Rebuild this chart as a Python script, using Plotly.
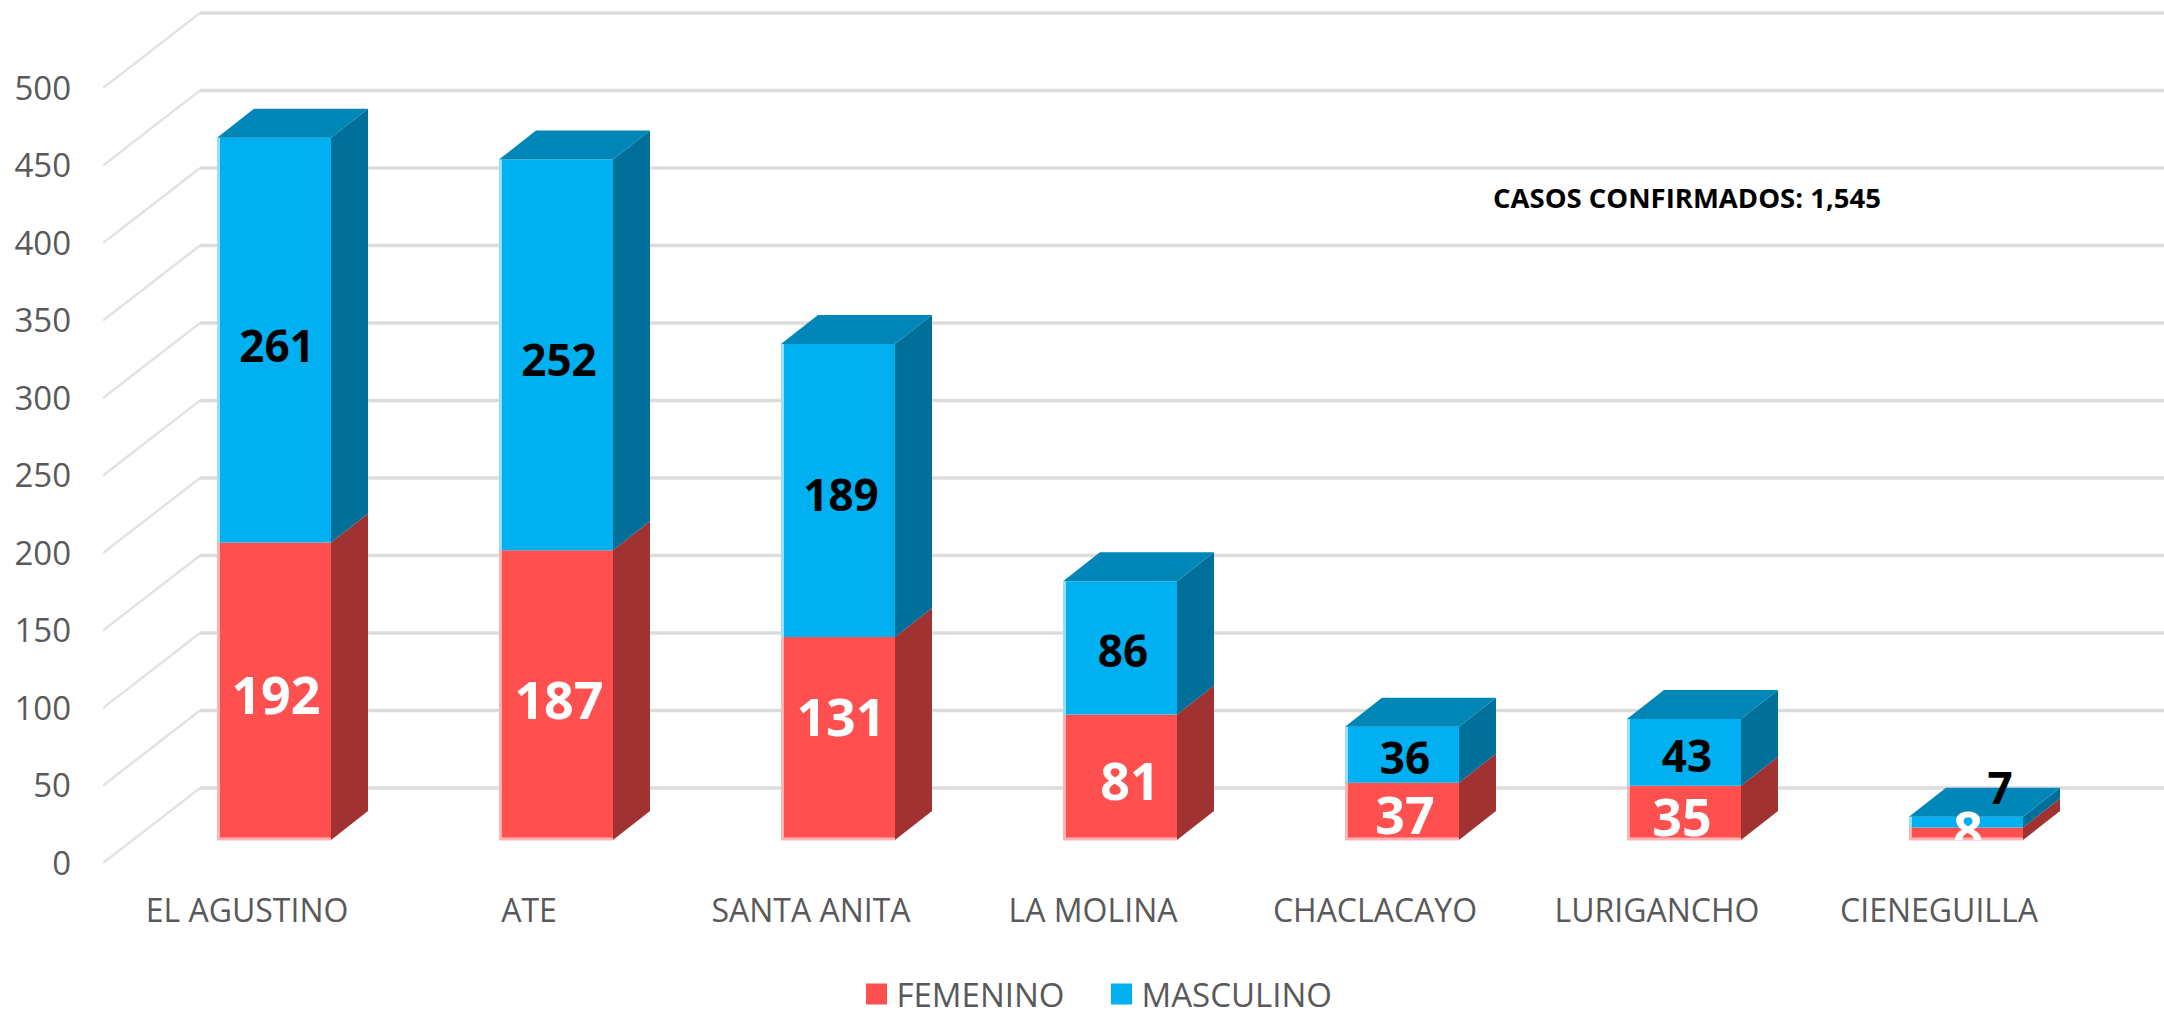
import plotly.graph_objects as go

categories = ["EL AGUSTINO", "ATE", "SANTA ANITA", "LA MOLINA", "CHACLACAYO", "LURIGANCHO", "CIENEGUILLA"]
femenino = [192, 187, 131, 81, 37, 35, 8]
masculino = [261, 252, 189, 86, 36, 43, 7]
y_ticks = [0, 50, 100, 150, 200, 250, 300, 350, 400, 450, 500]

W, H = 2164, 1010
PX_Y = 1.55              # pixels per value unit
ZERO_PX = 863            # pixel row of value 0
STEP = 282               # pixels per category
X0 = 274                 # pixel column of first bar centre
LEFT = 103               # left edge of plot
FONT = "Open Sans"
GREY = "#595959"

# label nudges from the middle of each segment, in pixels (right, down)
fem_nudge_x = [2, 3, 3, 10, 3, -2, 2]
fem_nudge_y = [10, 11, -15, 10, 10, 10, 2]
mas_nudge_x = [3, 3, 3, 3, 3, 3, 34]
mas_nudge_y = [11, 10, 9.5, 8, 8, 9, -29]

xu = lambda px: px / STEP
yu = lambda px: px / PX_Y
base = yu(23)
bar_w = xu(114)
dx, dy = xu(37), yu(29)
wall_dx, wall_dy = xu(97), yu(75)
x_left = (LEFT - X0) / STEP
x_right = (W - X0) / STEP
y_top = ZERO_PX / PX_Y
xs = list(range(len(categories)))

RED, RED_SIDE, RED_EDGE = "#FF5050", "#A03232", "#FFB4B4"
BLUE, BLUE_SIDE, BLUE_TOP, BLUE_EDGE = "#00B0F0", "#00709A", "#0086B7", "#9ADFF8"


def poly(px, py, color):
    return go.Scatter(x=px, y=py, mode="lines", fill="toself", fillcolor=color,
                      line=dict(width=0), hoverinfo="skip", showlegend=False)


fig = go.Figure()

# walls: drawn below the traces
shapes = []
for t in y_ticks:
    shapes.append(dict(type="line", layer="below", xref="x", yref="y",
                       x0=x_left, y0=t, x1=x_left + wall_dx, y1=t + wall_dy,
                       line=dict(color="#E2E2E2", width=2.5)))
    shapes.append(dict(type="line", layer="below", xref="x", yref="y",
                       x0=x_left + wall_dx, y0=t + wall_dy, x1=x_right, y1=t + wall_dy,
                       line=dict(color="#DCDCDC", width=3.5)))

# front faces
fig.add_trace(go.Bar(x=xs, y=femenino, base=[base] * len(xs), width=bar_w, name="FEMENINO",
                     marker=dict(color=RED, line=dict(width=0)), showlegend=False))
fig.add_trace(go.Bar(x=xs, y=masculino, base=[base + f for f in femenino], width=bar_w, name="MASCULINO",
                     marker=dict(color=BLUE, line=dict(width=0)), showlegend=False))

# side and top faces, bright edges
for i, (f, m) in enumerate(zip(femenino, masculino)):
    l, r = i - bar_w / 2, i + bar_w / 2
    y1, y2 = base + f, base + f + m
    fig.add_trace(poly([r, r + dx, r + dx, r, r], [base, base + dy, y1 + dy, y1, base], RED_SIDE))
    fig.add_trace(poly([r, r + dx, r + dx, r, r], [y1, y1 + dy, y2 + dy, y2, y1], BLUE_SIDE))
    fig.add_trace(poly([l, l + dx, r + dx, r, l], [y2, y2 + dy, y2 + dy, y2, y2], BLUE_TOP))
    fig.add_trace(go.Scatter(x=[l + xu(1.5), l + xu(1.5), r], y=[y1, base + yu(1), base + yu(1)], mode="lines",
                             line=dict(color=RED_EDGE, width=3), hoverinfo="skip", showlegend=False))
    fig.add_trace(go.Scatter(x=[l + xu(1.5), l + xu(1.5)], y=[y1, y2], mode="lines",
                             line=dict(color=BLUE_EDGE, width=3), hoverinfo="skip", showlegend=False))

# legend entries
for name, col in [("FEMENINO", RED), ("MASCULINO", BLUE)]:
    fig.add_trace(go.Scatter(x=[None], y=[None], mode="markers", name=name,
                             marker=dict(symbol="square", size=16, color=col, line=dict(color=col, width=5))))

# value labels: on a subplot that ends at the bars' floor, so low labels are cut there
fem_x = [i + xu(n) for i, n in zip(xs, fem_nudge_x)]
mas_x = [i + xu(n) for i, n in zip(xs, mas_nudge_x)]
fem_y = [base + f / 2 - yu(n) for f, n in zip(femenino, fem_nudge_y)]
mas_y = [base + f + m / 2 - yu(n) for f, m, n in zip(femenino, masculino, mas_nudge_y)]
fig.add_trace(go.Scatter(x=fem_x, y=fem_y, yaxis="y2", mode="text", text=[str(v) for v in femenino],
                         textposition="middle center", cliponaxis=True, showlegend=False, hoverinfo="skip",
                         textfont=dict(family=FONT, size=52, color="white", weight="bold")))
fig.add_trace(go.Scatter(x=mas_x, y=mas_y, yaxis="y2", mode="text", text=[str(v) for v in masculino],
                         textposition="middle center", cliponaxis=True, showlegend=False, hoverinfo="skip",
                         textfont=dict(family=FONT, size=44, color="black", weight="bold")))

fig.add_annotation(text="<b>CASOS CONFIRMADOS: 1,545</b>", xref="paper", yref="paper", showarrow=False,
                   x=(1687 - LEFT) / (W - LEFT), y=(ZERO_PX - 197) / ZERO_PX, xanchor="center", yanchor="middle",
                   font=dict(family=FONT, size=27.5, color="black"))

fig.update_layout(
    width=W, height=H, autosize=False, barmode="overlay",
    margin=dict(l=LEFT, r=0, t=0, b=H - ZERO_PX, pad=0, autoexpand=False),
    paper_bgcolor="white", plot_bgcolor="rgba(0,0,0,0)", shapes=shapes,
    font=dict(family=FONT, size=28, color=GREY),
    xaxis=dict(range=[x_left, x_right], tickmode="array", tickvals=[i - xu(27) for i in xs], ticktext=categories,
               showgrid=False, zeroline=False, showline=False, ticks="", ticklabelstandoff=26,
               tickfont=dict(family=FONT, size=32, color=GREY)),
    yaxis=dict(range=[0, y_top], tickmode="array", tickvals=y_ticks, showgrid=False, zeroline=False,
               showline=False, ticks="", ticklabelstandoff=31,
               tickfont=dict(family=FONT, size=33, color=GREY)),
    # y2 domain starts where the floor of the bars lies
    yaxis2=dict(domain=[23 / ZERO_PX, 1], anchor="x", range=[base, y_top], visible=False),
    legend=dict(orientation="h", x=(856.5 - LEFT) / (W - LEFT), y=-(994 - ZERO_PX) / ZERO_PX,
                xanchor="left", yanchor="middle", bgcolor="rgba(0,0,0,0)",
                entrywidth=200, entrywidthmode="pixels",
                font=dict(family=FONT, size=33, color=GREY), itemclick=False, itemdoubleclick=False),
)

fig.write_html("out.html", config={"displayModeBar": False}, post_script="document.body.style.margin='0';")
